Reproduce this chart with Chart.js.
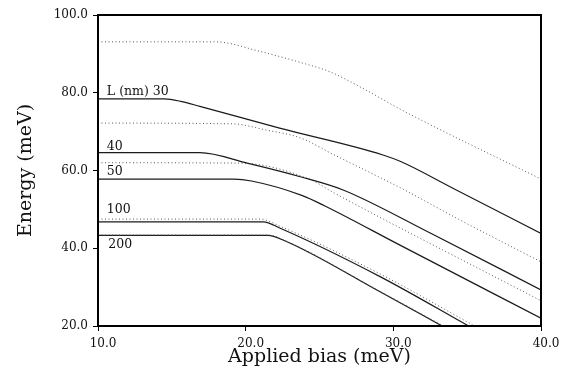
<!DOCTYPE html>
<html>
<head>
<meta charset="utf-8">
<script src="https://cdn.jsdelivr.net/npm/chart.js@4"></script>
<style>
  html, body { margin: 0; padding: 0; background: #fff; }
  #wrap { width: 561px; height: 377px; }
</style>
</head>
<body>
<div id="wrap"><canvas id="biasChart" width="561" height="377"></canvas></div>
<script>
// Ticks
const biasTicks = [10, 20, 30, 40];
const energyTicks = [20, 40, 60, 80, 100];

// Curves (bias in meV, energy in meV)
const dot1Bias = [10, 17.9, 21.0, 23.7, 25.7, 27.7, 30.8, 40];
const dot1Energy = [93.1, 93.1, 90.6, 87.8, 85.4, 81.6, 75.1, 57.8];

const l30Bias = [10, 14.5, 15.6, 16.9, 22.3, 29.3, 30.5, 34.0, 40];
const l30Energy = [78.4, 78.4, 77.8, 76.5, 70.9, 64.0, 62.3, 55.5, 43.8];

const dot2Bias = [10, 19.1, 21.4, 23.7, 25.9, 30.5, 34.5, 40];
const dot2Energy = [72.2, 72.0, 70.4, 68.4, 64.2, 55.5, 47.3, 36.5];

const l40Bias = [10, 16.9, 20.1, 23.7, 26.6, 32.5, 40];
const l40Energy = [64.6, 64.6, 61.9, 58.4, 55.0, 43.9, 29.3];

const dot3Bias = [10, 19.6, 24.3, 26.0, 40];
const dot3Energy = [62.0, 61.9, 57.8, 54.2, 26.5];

const l50Bias = [10, 19.2, 20.4, 23.8, 25.3, 30.45, 40];
const l50Energy = [57.8, 57.8, 57.3, 53.6, 51.0, 40.8, 22.0];

const dot4Bias = [10, 21.0, 22.3, 29.1, 35.5];
const dot4Energy = [47.5, 47.5, 45.7, 33.4, 20];

const l100Bias = [10, 21.2, 22.3, 29.1, 35.1];
const l100Energy = [46.8, 46.8, 45.2, 32.7, 20];

const dot5Bias = [10, 21.5, 22.6, 29.1, 33.4];
const dot5Energy = [43.4, 43.4, 42.1, 28.9, 20];

const l200Bias = [10, 21.5, 22.6, 29.1, 33.3];
const l200Energy = [43.3, 43.3, 42.0, 28.8, 20];

// Curve labels (text and where its baseline starts, in data units)
const labelTexts = ['L (nm) 30', '40', '50', '100', '200'];
const labelBias = [10.6, 10.6, 10.6, 10.6, 10.7];
const labelEnergy = [79.5, 65.3, 58.8, 49.1, 40.1];

const serif = 'DejaVu Serif';

function pts(xs, ys) {
    return xs.map((x, i) => ({ x: x, y: ys[i] }));
}

function solid(xs, ys) {
    return {
        data: pts(xs, ys),
        borderColor: '#1a1a1a',
        borderWidth: 1.2,
        pointRadius: 0,
        cubicInterpolationMode: 'monotone',
        fill: false
    };
}

function dotted(xs, ys) {
    return {
        data: pts(xs, ys),
        borderColor: '#555',
        borderWidth: 1,
        borderDash: [1, 2.5],
        pointRadius: 0,
        cubicInterpolationMode: 'monotone',
        fill: false
    };
}

// frame round the plot area plus the curve labels
const framePlugin = {
    id: 'frame',
    afterDatasetsDraw(chart) {
        const { ctx, chartArea: a, scales } = chart;
        ctx.save();
        ctx.strokeStyle = '#000';
        ctx.lineWidth = 2;
        ctx.strokeRect(a.left, a.top, a.right - a.left, a.bottom - a.top);
        ctx.fillStyle = '#111';
        ctx.font = '12.5px "' + serif + '"';
        ctx.textBaseline = 'alphabetic';
        labelTexts.forEach((t, i) => {
            ctx.fillText(t, scales.x.getPixelForValue(labelBias[i]), scales.y.getPixelForValue(labelEnergy[i]));
        });
        ctx.restore();
    }
};

function initChart() {
    const ctx = document.getElementById('biasChart').getContext('2d');

    new Chart(ctx, {
        type: 'line',
        data: {
            datasets: [
                dotted(dot1Bias, dot1Energy),
                solid(l30Bias, l30Energy),
                dotted(dot2Bias, dot2Energy),
                solid(l40Bias, l40Energy),
                dotted(dot3Bias, dot3Energy),
                solid(l50Bias, l50Energy),
                dotted(dot4Bias, dot4Energy),
                solid(l100Bias, l100Energy),
                dotted(dot5Bias, dot5Energy),
                solid(l200Bias, l200Energy)
            ]
        },
        options: {
            responsive: false,
            animation: false,
            layout: { padding: { top: 15, right: 20, left: 0, bottom: 0 } },
            plugins: { legend: { display: false }, tooltip: { enabled: false } },
            scales: {
                x: {
                    type: 'linear',
                    min: 10,
                    max: 40,
                    afterBuildTicks: (s) => { s.ticks = biasTicks.map(v => ({ value: v })); },
                    afterFit: (s) => { s.height = 51; },
                    ticks: {
                        color: '#111',
                        font: { family: serif, size: 12 },
                        padding: 6,
                        labelOffset: 5,
                        maxRotation: 0,
                        callback: (v) => v.toFixed(1)
                    },
                    grid: { drawOnChartArea: false, tickLength: 5, color: '#000' },
                    border: { display: true, width: 2, color: '#000' },
                    title: {
                        display: true,
                        text: 'Applied bias (meV)',
                        color: '#111',
                        font: { family: serif, size: 19 },
                        padding: { top: 9, bottom: 9 }
                    }
                },
                y: {
                    type: 'linear',
                    min: 20,
                    max: 100,
                    afterBuildTicks: (s) => { s.ticks = energyTicks.map(v => ({ value: v })); },
                    afterFit: (s) => { s.width = 98; },
                    ticks: {
                        color: '#111',
                        font: { family: serif, size: 12 },
                        padding: 5,
                        callback: (v) => v.toFixed(1)
                    },
                    grid: { drawOnChartArea: false, tickLength: 5, color: '#000' },
                    border: { display: true, width: 2, color: '#000' },
                    title: {
                        display: true,
                        text: 'Energy (meV)',
                        color: '#111',
                        font: { family: serif, size: 19 },
                        padding: { top: 15, bottom: 15 }
                    }
                }
            }
        },
        plugins: [framePlugin]
    });
}

document.addEventListener('DOMContentLoaded', () => {
    initChart();
});
</script>
</body>
</html>
